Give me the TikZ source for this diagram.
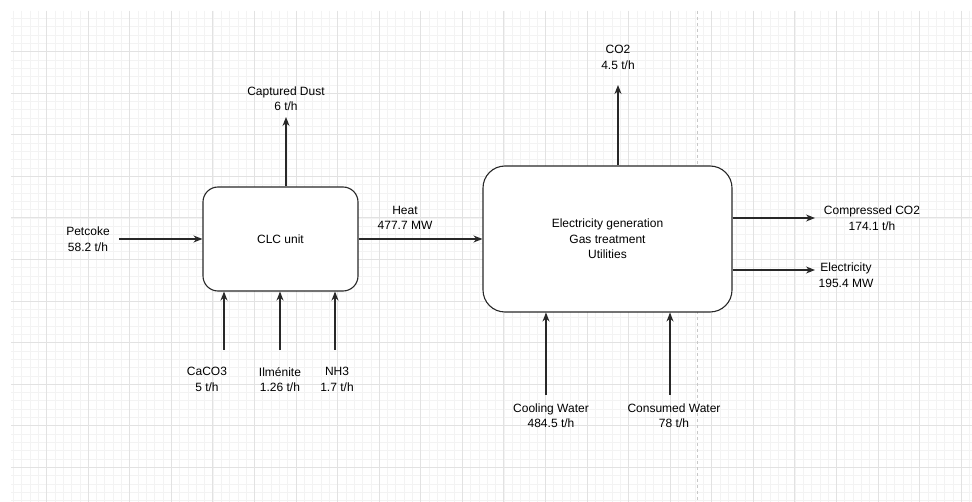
\documentclass[tikz,border=0pt]{standalone}
\usepackage{fontspec}
\setmainfont{Liberation Sans}
\usetikzlibrary{arrows.meta,positioning}
\definecolor{gridminor}{RGB}{243,243,243}
\definecolor{gridmajor}{RGB}{226,226,226}
\definecolor{pagebreak}{RGB}{200,200,200}
\definecolor{ink}{RGB}{40,40,40}

\begin{document}
\begin{tikzpicture}[x=1pt,y=-1pt,>={Stealth[length=9pt,width=7pt]},
  font=\fontsize{12}{15.5}\selectfont,
  block/.style={draw=ink,line width=1.1pt,fill=white,align=center},
  lbl/.style={inner sep=0pt,align=center},
  flow/.style={->,draw=ink,line width=1.1pt},
  minorline/.style={draw=gridminor,line width=0.8pt},
  majorline/.style={draw=gridmajor,line width=1pt}]
  \useasboundingbox (0,0) rectangle (972,502);
  \fill[white] (0,0) rectangle (972,502);

  % background grid
  \foreach \k in {0,...,115}
    \draw[minorline] ({13.44+8.314*\k},11) -- ({13.44+8.314*\k},502);
  \foreach \k in {1,...,59}
    \draw[minorline] (11,{10.13+8.314*\k}) -- (972,{10.13+8.314*\k});
  \foreach \k in {0,...,22}
    \draw[majorline] ({46.7+41.57*\k},11) -- ({46.7+41.57*\k},502);
  \foreach \k in {1,...,11}
    \draw[majorline] (11,{10.13+41.57*\k}) -- (972,{10.13+41.57*\k});
  \draw[pagebreak,line width=0.8pt,dash pattern=on 3pt off 3pt] (697,11) -- (697,502);

  % units
  \node[block,rounded corners=15pt,minimum width=155pt,minimum height=104pt] (clc)
    at (280.5,239) {CLC unit};
  \node[block,rounded corners=22pt,minimum width=249pt,minimum height=146pt] (util)
    at (607.5,239) {Electricity generation\\Gas treatment\\Utilities};

  % free ends of the streams
  \coordinate (petcokeIn) at (119,239);
  \coordinate (dustOut) at (286,117);
  \coordinate (caco3In) at (224,350);
  \coordinate (ilmIn) at (280,350);
  \coordinate (nh3In) at (335,350);
  \coordinate (co2Out) at (618,85);
  \coordinate (compOut) at (815,218);
  \coordinate (elecOut) at (815,270);
  \coordinate (coolIn) at (546,395);
  \coordinate (consIn) at (670,395);

  % stream labels
  \node[lbl] (petcoke) at (88,239) {Petcoke\\58.2 t/h};
  \node[lbl] (dust) at (286,98.7) {Captured Dust\\6 t/h};
  \node[lbl] (heat) at (405,218) {Heat\\477.7 MW};
  \node[lbl] (caco3) at (207,379.5) {CaCO3\\5 t/h};
  \node[lbl] (ilm) at (280,379.5) {Ilménite\\1.26 t/h};
  \node[lbl] (nh3) at (337,379.5) {NH3\\1.7 t/h};
  \node[lbl] (co2) at (618,57.2) {CO2\\4.5 t/h};
  \node[lbl] (comp) at (872,218) {Compressed CO2\\174.1 t/h};
  \node[lbl] (elec) at (846,275.3) {Electricity\\195.4 MW};
  \node[lbl] (cool) at (551,415.5) {Cooling Water\\484.5 t/h};
  \node[lbl] (cons) at (674,415.8) {Consumed Water\\78 t/h};

  % streams
  \draw[flow] (petcokeIn) -- (clc.west);
  \draw[flow] (clc.north -| dustOut) -- (dustOut);
  \draw[flow] (caco3In) -- (caco3In |- clc.south);
  \draw[flow] (ilmIn) -- (ilmIn |- clc.south);
  \draw[flow] (nh3In) -- (nh3In |- clc.south);
  \draw[flow] (clc) -- (util);
  \draw[flow] (util.north -| co2Out) -- (co2Out);
  \draw[flow] (util.east |- compOut) -- (compOut);
  \draw[flow] (util.east |- elecOut) -- (elecOut);
  \draw[flow] (coolIn) -- (coolIn |- util.south);
  \draw[flow] (consIn) -- (consIn |- util.south);
\end{tikzpicture}
\end{document}
